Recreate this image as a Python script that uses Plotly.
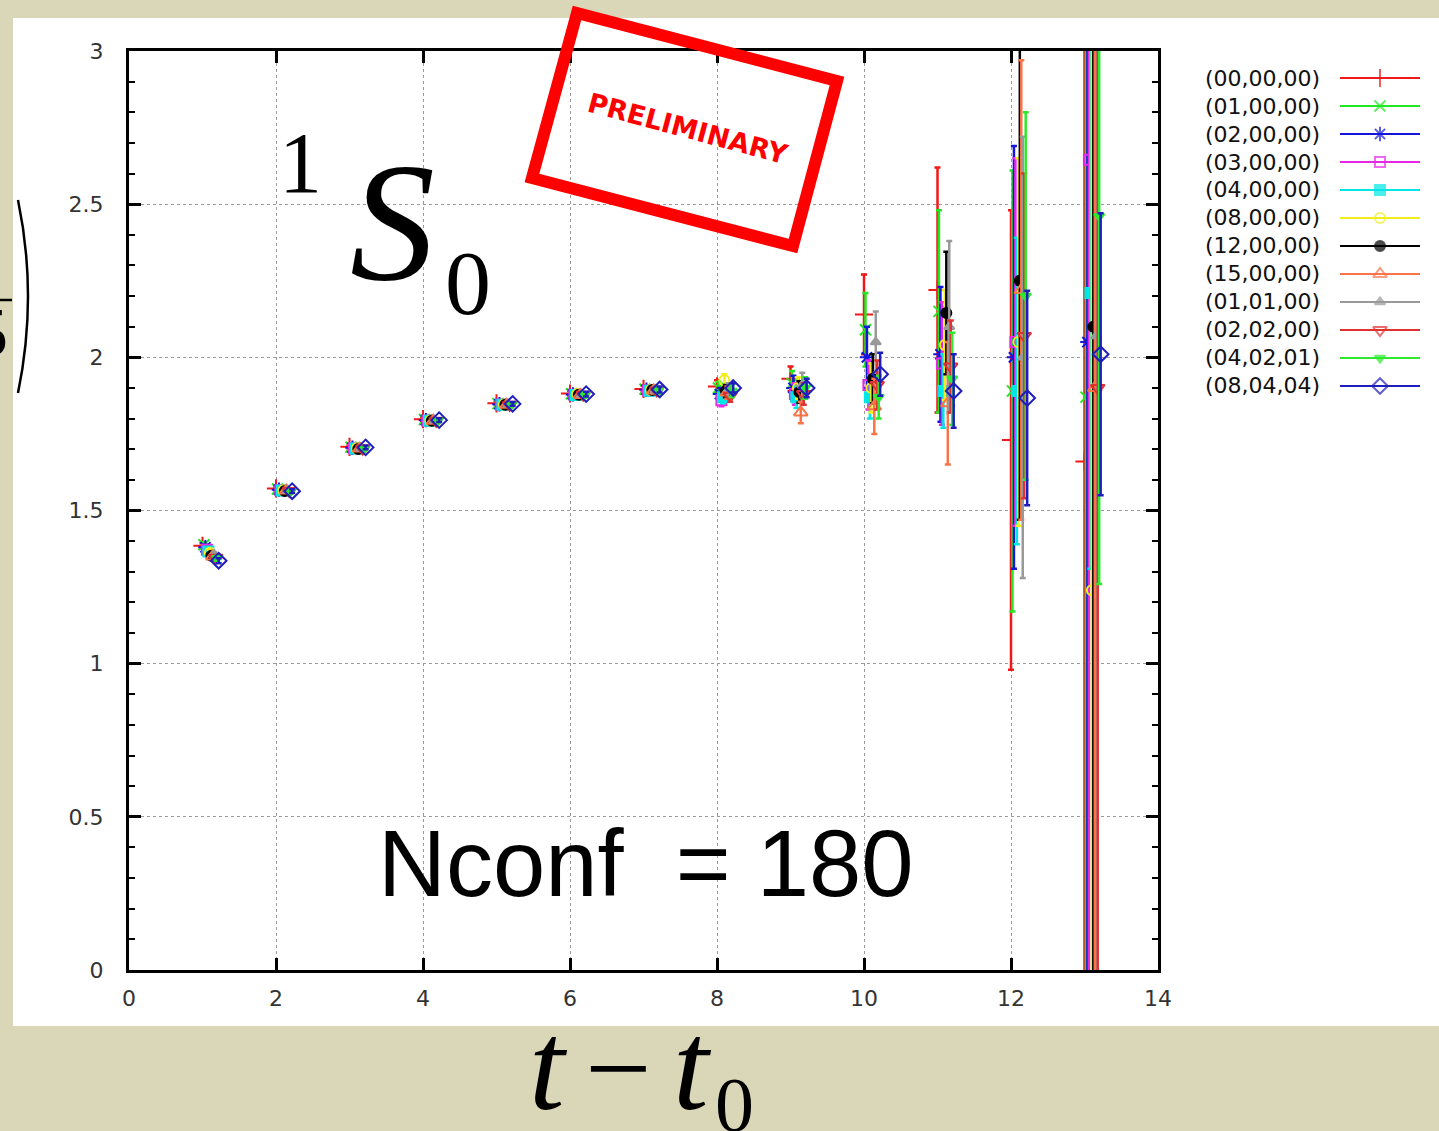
import plotly.graph_objects as go

W, H = 1439, 1131

# ---- data: effective value vs t - t0 for each momentum channel ----
t_vals = [1, 2, 3, 4, 5, 6, 7, 8, 9, 10, 11, 12, 13]

series_names = ["(00,00,00)", "(01,00,00)", "(02,00,00)", "(03,00,00)",
                "(04,00,00)", "(08,00,00)", "(12,00,00)", "(15,00,00)",
                "(01,01,00)", "(02,02,00)", "(04,02,01)", "(08,04,04)"]

y_000000 = [1.385, 1.572, 1.708, 1.798, 1.850, 1.882, 1.897, 1.905, 1.930, 2.140, 2.220, 1.730, 1.660]
y_010000 = [1.388, 1.570, 1.707, 1.797, 1.849, 1.881, 1.896, 1.900, 1.915, 2.090, 2.150, 1.890, 1.870]
y_020000 = [1.380, 1.568, 1.705, 1.795, 1.847, 1.879, 1.894, 1.880, 1.900, 2.000, 2.010, 2.000, 2.050]
y_030000 = [1.372, 1.566, 1.703, 1.794, 1.846, 1.878, 1.892, 1.860, 1.880, 1.910, 1.980, 2.050, 2.645]
y_040000 = [1.366, 1.565, 1.702, 1.793, 1.845, 1.877, 1.891, 1.870, 1.870, 1.870, 1.890, 1.890, 2.210]
y_080000 = [1.362, 1.566, 1.703, 1.794, 1.846, 1.880, 1.893, 1.925, 1.900, 1.900, 2.040, 2.050, 1.240]
y_120000 = [1.352, 1.564, 1.701, 1.793, 1.845, 1.878, 1.893, 1.890, 1.887, 1.930, 2.145, 2.250, 2.100]
y_150000 = [1.350, 1.565, 1.702, 1.793, 1.845, 1.877, 1.892, 1.885, 1.820, 1.840, 1.850, 2.220, 1.900]
y_010100 = [1.356, 1.566, 1.703, 1.794, 1.846, 1.878, 1.893, 1.895, 1.910, 2.050, 2.100, 2.000, 2.070]
y_020200 = [1.346, 1.564, 1.702, 1.793, 1.845, 1.878, 1.892, 1.875, 1.880, 1.910, 1.970, 2.070, 1.900]
y_040201 = [1.344, 1.563, 1.701, 1.793, 1.845, 1.877, 1.892, 1.890, 1.900, 1.870, 1.930, 2.200, 2.460]
y_080404 = [1.336, 1.563, 1.706, 1.795, 1.848, 1.880, 1.895, 1.900, 1.900, 1.945, 1.890, 1.867, 2.010]

e_000000 = [0.008, 0.006, 0.006, 0.006, 0.006, 0.008, 0.010, 0.020, 0.040, 0.13, 0.40, 0.75, 2.5]
e_010000 = [0.008, 0.006, 0.006, 0.006, 0.006, 0.008, 0.010, 0.020, 0.040, 0.12, 0.33, 0.72, 2.5]
e_020000 = [0.008, 0.006, 0.006, 0.006, 0.006, 0.008, 0.010, 0.020, 0.040, 0.10, 0.22, 0.69, 2.5]
e_030000 = [0.008, 0.006, 0.006, 0.006, 0.006, 0.008, 0.010, 0.020, 0.035, 0.08, 0.20, 0.60, 2.7]
e_040000 = [0.008, 0.006, 0.006, 0.006, 0.006, 0.008, 0.010, 0.020, 0.035, 0.07, 0.12, 0.50, 0.9]
e_080000 = [0.008, 0.006, 0.006, 0.006, 0.006, 0.008, 0.010, 0.020, 0.035, 0.08, 0.18, 0.60, 1.8]
e_120000 = [0.008, 0.006, 0.006, 0.006, 0.006, 0.008, 0.010, 0.020, 0.035, 0.08, 0.20, 0.78, 2.5]
e_150000 = [0.008, 0.006, 0.006, 0.006, 0.006, 0.008, 0.010, 0.020, 0.035, 0.09, 0.20, 0.75, 3.0]
e_010100 = [0.008, 0.006, 0.006, 0.006, 0.006, 0.008, 0.010, 0.020, 0.040, 0.10, 0.28, 0.72, 2.5]
e_020200 = [0.008, 0.006, 0.006, 0.006, 0.006, 0.008, 0.010, 0.020, 0.035, 0.08, 0.15, 0.53, 2.5]
e_040201 = [0.008, 0.006, 0.006, 0.006, 0.006, 0.008, 0.010, 0.020, 0.035, 0.07, 0.15, 0.60, 1.2]
e_080404 = [0.008, 0.006, 0.006, 0.006, 0.006, 0.008, 0.010, 0.015, 0.030, 0.07, 0.12, 0.35, 0.46]

all_y = [y_000000, y_010000, y_020000, y_030000, y_040000, y_080000,
         y_120000, y_150000, y_010100, y_020200, y_040201, y_080404]
all_e = [e_000000, e_010000, e_020000, e_030000, e_040000, e_080000,
         e_120000, e_150000, e_010100, e_020200, e_040201, e_080404]

x_ticks = [0, 2, 4, 6, 8, 10, 12, 14]
y_ticks = [0, 0.5, 1, 1.5, 2, 2.5, 3]

# ---- styles ----
colors = ["#f01818", "#22e822", "#1414dc", "#e826e8", "#00e6e6", "#f2ee1c",
          "#000000", "#fa7448", "#999999", "#e03030", "#2eea2e", "#1e1ebe"]
symbols = ["cross-thin-open", "x-thin-open", "asterisk-open", "square-open",
           "square", "circle-open", "circle", "triangle-up-open",
           "triangle-up", "triangle-down-open", "triangle-down", "diamond-open"]
sizes = [13, 11, 12, 10, 10, 10, 10, 12, 9, 12, 9, 12]
x_shift = 0.02

# plot area in pixels
PX0, PX1, PY0, PY1 = 129, 1158, 51, 970

fig = go.Figure()

for i, (ys, es) in enumerate(zip(all_y, all_e)):
    xs = [t + x_shift * i for t in t_vals]
    fig.add_trace(go.Scatter(
        x=xs, y=ys, mode="markers", name=series_names[i], showlegend=False,
        marker=dict(symbol=symbols[i], size=sizes[i], color=colors[i],
                    line=dict(color=colors[i], width=2)),
        error_y=dict(type="data", array=es, color=colors[i], thickness=2.5, width=3),
        xaxis="x", yaxis="y", cliponaxis=True,
    ))

# key entries drawn on a pixel-space overlay axis, text on the left of each sample
LEG_TXT_X, LEG_L0, LEG_L1, LEG_Y0, LEG_DY = 1322, 1340, 1420, 78, 28
for i, name in enumerate(series_names):
    yy = LEG_Y0 + LEG_DY * i
    fig.add_trace(go.Scatter(
        x=[LEG_L0, (LEG_L0 + LEG_L1) / 2, LEG_L1], y=[yy, yy, yy],
        mode="lines+markers", showlegend=False, hoverinfo="skip",
        line=dict(color=colors[i], width=2),
        marker=dict(symbol=symbols[i], size=[0, sizes[i], 0], color=colors[i],
                    line=dict(color=colors[i], width=2)),
        xaxis="x2", yaxis="y2",
    ))

tick_font = dict(family="DejaVu Sans, sans-serif", size=22, color="#333333")

fig.update_layout(
    width=W, height=H,
    margin=dict(l=0, r=0, t=0, b=0, autoexpand=False),
    paper_bgcolor="#d9d7b8",
    plot_bgcolor="rgba(0,0,0,0)",
    showlegend=False,
    xaxis=dict(
        domain=[PX0 / W, PX1 / W], range=[0, 14], anchor="y", automargin=False,
        tickmode="array", tickvals=x_ticks, ticktext=[str(v) for v in x_ticks],
        ticks="inside", ticklen=12, tickwidth=2.5, tickcolor="black",
        showline=True, linecolor="black", linewidth=3, mirror="allticks",
        showgrid=True, gridcolor="#9a9a9a", gridwidth=1, griddash="dot",
        zeroline=False, tickfont=tick_font, ticklabelstandoff=7,
    ),
    yaxis=dict(
        domain=[1 - PY1 / H, 1 - PY0 / H], range=[0, 3], anchor="x", automargin=False,
        tickmode="array", tickvals=y_ticks, ticktext=["0", "0.5", "1", "1.5", "2", "2.5", "3"],
        ticks="inside", ticklen=12, tickwidth=2.5, tickcolor="black",
        minor=dict(dtick=0.1, ticks="inside", ticklen=6, tickwidth=2, tickcolor="black", showgrid=False),
        showline=True, linecolor="black", linewidth=3, mirror="allticks",
        showgrid=True, gridcolor="#9a9a9a", gridwidth=1, griddash="dot",
        zeroline=False, tickfont=tick_font, ticklabelstandoff=18,
    ),
    xaxis2=dict(domain=[0, 1], range=[0, W], anchor="y2", visible=False, fixedrange=True, automargin=False),
    yaxis2=dict(domain=[0, 1], range=[H, 0], anchor="x2", visible=False, fixedrange=True, automargin=False),
)


def P(px, py):
    return px / W, 1 - py / H


shapes = []
# white slide panel behind the chart
x0, y0 = P(13, 18)
x1, y1 = P(W + 5, 1026)
shapes.append(dict(type="rect", xref="paper", yref="paper", x0=x0, y0=y1, x1=x1, y1=y0,
                   fillcolor="white", line=dict(width=0), layer="below"))

# "PRELIMINARY" stamp frame
corners = [(577, 13), (837, 81), (793, 246), (532, 178)]
path = "M " + " L ".join(f"{P(a, b)[0]:.5f},{P(a, b)[1]:.5f}" for a, b in corners) + " Z"
shapes.append(dict(type="path", xref="paper", yref="paper", path=path,
                   line=dict(color="#ff0000", width=12), layer="above"))

# right bracket of the cut-off vertical label
p0, pm, p1 = P(18, 200), P(38, 296), P(18, 393)
shapes.append(dict(type="path", xref="paper", yref="paper",
                   path=f"M {p0[0]:.5f},{p0[1]:.5f} Q {pm[0]:.5f},{pm[1]:.5f} {p1[0]:.5f},{p1[1]:.5f}",
                   line=dict(color="black", width=2.5), layer="above"))
a0, a1 = P(0, 300), P(12, 300)
shapes.append(dict(type="line", xref="paper", yref="paper", x0=a0[0], y0=a0[1], x1=a1[0], y1=a1[1],
                   line=dict(color="black", width=2.5), layer="above"))

fig.update_layout(shapes=shapes)

serif = "Liberation Serif, Times New Roman, serif"
sans = "Liberation Sans, Arial, sans-serif"


def note(px, py, text, size, family, color="black", angle=0, xanchor="center", yanchor="middle"):
    x, y = P(px, py)
    fig.add_annotation(x=x, y=y, xref="paper", yref="paper", text=text, showarrow=False,
                       xanchor=xanchor, yanchor=yanchor, textangle=angle,
                       font=dict(size=size, family=family, color=color))


# key labels
for i, name in enumerate(series_names):
    note(LEG_TXT_X, LEG_Y0 + LEG_DY * i, name, 22, "DejaVu Sans, sans-serif",
         color="#111111", xanchor="right")

# 1S0 channel label
note(300, 163, "1", 86, serif)
note(393, 222, "<i>S</i>", 170, serif)
note(468, 283, "0", 92, serif)

# configuration count
note(646, 864, "Nconf  = 180", 94, sans)

# horizontal axis title t - t0
note(548, 1066, "<i>t</i>", 128, serif)
note(618, 1068, "\u2212", 118, serif)
note(692, 1066, "<i>t</i>", 128, serif)
note(734, 1104, "0", 78, serif)

# cut-off digit of the vertical label
note(10, 332, "5", 70, serif, xanchor="right")

# stamp text
note(688, 128, "<b>PRELIMINARY</b>", 27, "DejaVu Sans, sans-serif", color="#ff0000", angle=15)

fig.write_html("out.html")
